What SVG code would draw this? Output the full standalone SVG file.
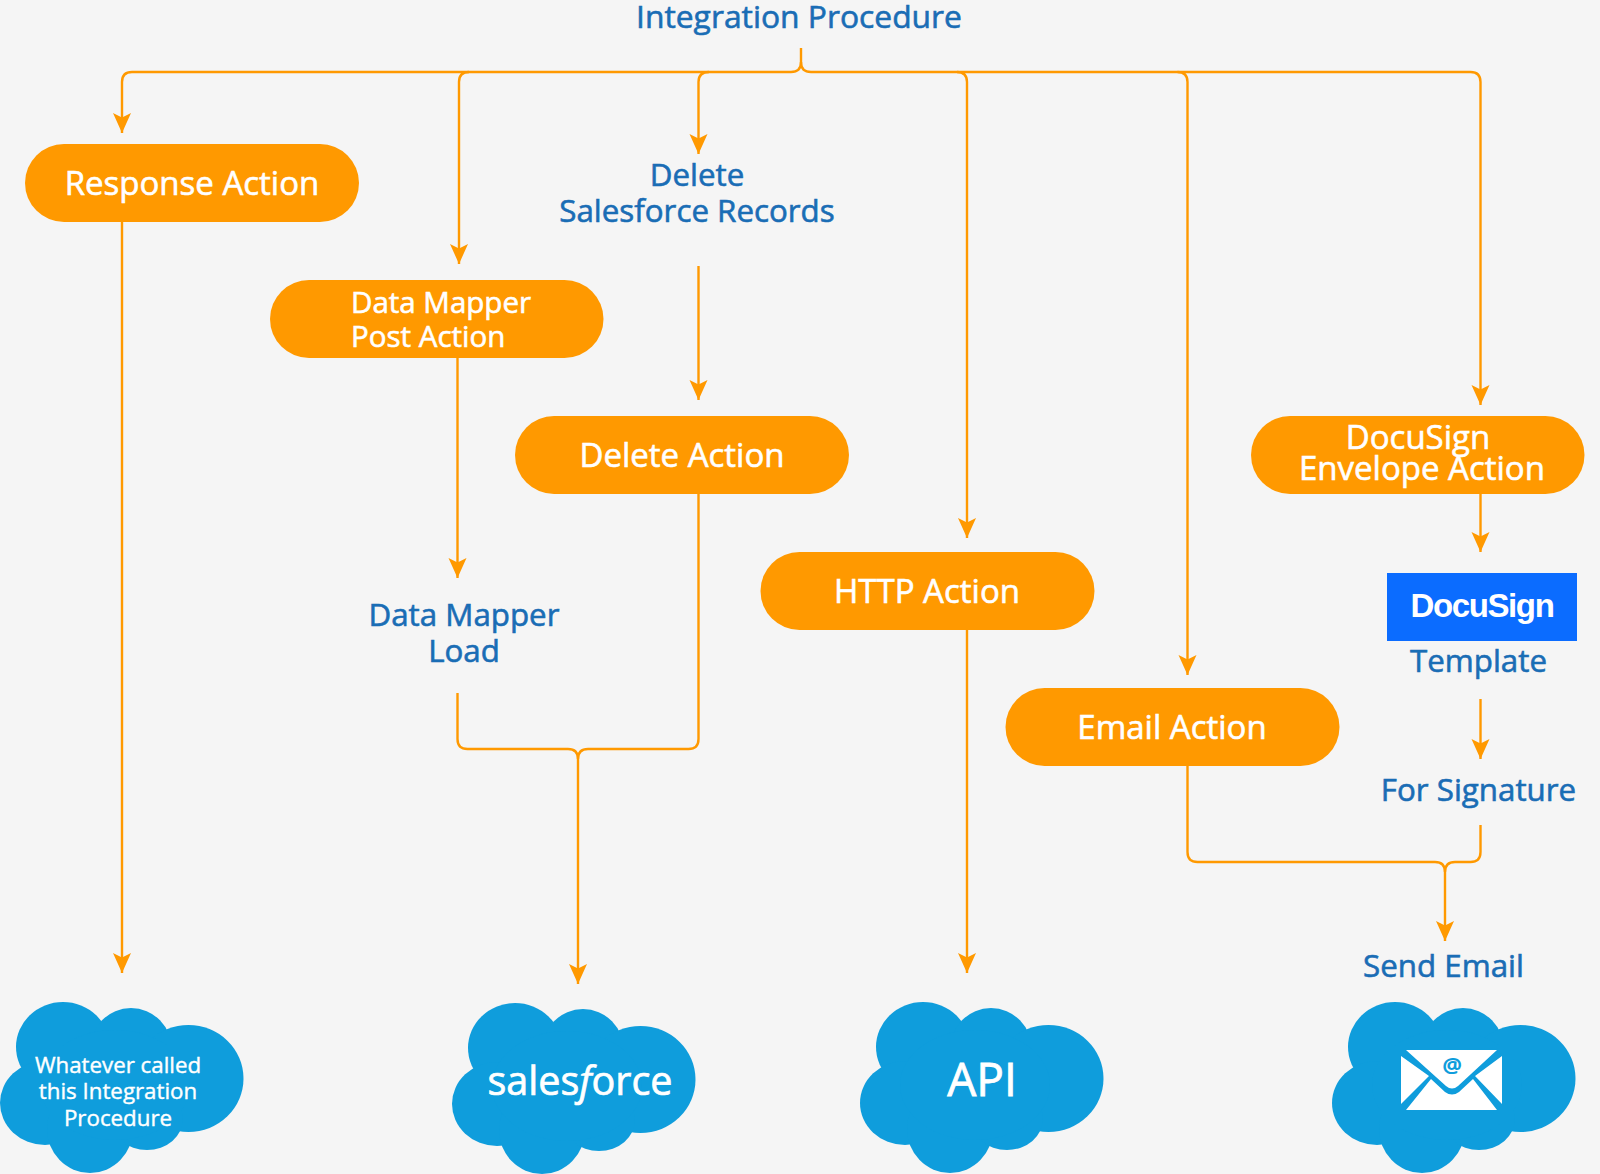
<svg xmlns="http://www.w3.org/2000/svg" width="1600" height="1174" viewBox="0 0 1600 1174">
<style>
text{font-family:"Open Sans","Noto Sans",sans-serif;text-anchor:middle}
.p{fill:#FF9900}
.w{fill:#FFFFFF;stroke:#FFFFFF;stroke-width:.6px;font-size:33px}
.m{text-anchor:start;font-size:29.500px}
.b{fill:#1A6DB5;stroke:#1A6DB5;stroke-width:.6px;font-size:31.300px}
.t{fill:#FFFFFF;stroke:#FFFFFF;stroke-width:.4px;font-size:22.300px}
.c{fill:none;stroke:#FF9900;stroke-width:2.4}
.a{marker-end:url(#arr)}
.cl{fill:#0F9DDC}
</style>
<defs>
<marker id="arr" markerUnits="userSpaceOnUse" markerWidth="22" markerHeight="24" refX="20" refY="10" orient="auto">
<path d="M0,1L20,10L0,19L4.500,10Z" fill="#FF9900"/>
</marker>
<g id="cloud">
<ellipse cx="63" cy="1047" rx="47" ry="45"/>
<ellipse cx="131" cy="1050" rx="41" ry="42"/>
<ellipse cx="188.500" cy="1078.500" rx="55" ry="53.500"/>
<ellipse cx="45" cy="1103" rx="45" ry="42"/>
<ellipse cx="90" cy="1129" rx="43" ry="44"/>
<ellipse cx="147" cy="1119" rx="36" ry="31"/>
<ellipse cx="115" cy="1085" rx="75" ry="55"/>
</g>
</defs>
<rect width="1600" height="1174" fill="#F5F5F5"/>
<g id="connectors">
<path class="c a" d="M801,48V62Q801,72 791,72H132Q122,72 122,82V133"/>
<path class="c a" d="M469,72Q459,72 459,82V264"/>
<path class="c a" d="M709,72Q698.500,72 698.500,82V154"/>
<path class="c a" d="M801,62Q801,72 811,72H1470.500Q1480.500,72 1480.500,82V405"/>
<path class="c a" d="M957,72Q967,72 967,82V538"/>
<path class="c a" d="M1177.500,72Q1187.500,72 1187.500,82V675"/>
<path class="c a" d="M122,222V973"/>
<path class="c a" d="M457.500,358V578"/>
<path class="c a" d="M698.500,266V400"/>
<path class="c" d="M698.500,494V739Q698.500,749 688.500,749H588Q578,749 578,759"/>
<path class="c a" d="M457.500,693V739Q457.500,749 467.500,749H568Q578,749 578,759V984"/>
<path class="c a" d="M967,630V973"/>
<path class="c" d="M1480.500,825V852Q1480.500,862 1470.500,862H1455Q1445,862 1445,872"/>
<path class="c a" d="M1187.500,766V852Q1187.500,862 1197.500,862H1435Q1445,862 1445,872V941"/>
<path class="c a" d="M1480.500,494V552"/>
<path class="c a" d="M1480.500,699V759"/>
</g>
<g id="title"><text class="b" style="font-size:31.800px" x="799" y="28">Integration Procedure</text></g>
<g id="response-action"><rect class="p" x="25" y="144" width="334" height="78" rx="39"/><text class="w" x="192" y="195">Response Action</text></g>
<g id="data-mapper-post"><rect class="p" x="270" y="280" width="333.500" height="78" rx="39"/><text class="w m" x="351" y="313">Data Mapper</text><text class="w m" x="351" y="347">Post Action</text></g>
<g id="delete-records"><text class="b" x="697" y="186">Delete</text><text class="b" x="697" y="222">Salesforce Records</text></g>
<g id="delete-action"><rect class="p" x="515" y="416" width="334" height="78" rx="39"/><text class="w" x="682" y="467">Delete Action</text></g>
<g id="data-mapper-load"><text class="b" x="464" y="626">Data Mapper</text><text class="b" x="464" y="662">Load</text></g>
<g id="http-action"><rect class="p" x="760.500" y="552" width="334" height="78" rx="39"/><text class="w" x="927" y="603">HTTP Action</text></g>
<g id="email-action"><rect class="p" x="1005.500" y="688" width="334" height="78" rx="39"/><text class="w" x="1172" y="739">Email Action</text></g>
<g id="docusign-action"><rect class="p" x="1251" y="416" width="333.500" height="78" rx="39"/><text class="w" x="1418" y="449">DocuSign</text><text class="w" x="1422" y="480">Envelope Action</text></g>
<g id="docusign-template"><rect x="1387" y="573" width="190" height="68" fill="#0B6CFF"/><text x="1482" y="617" style="font-family:'Liberation Sans',sans-serif;font-size:33px;font-weight:700;letter-spacing:-1.400px" fill="#FFFFFF">DocuSign</text><text class="b" x="1478.500" y="672">Template</text></g>
<g id="for-signature"><text class="b" x="1478.500" y="801">For Signature</text></g>
<g id="send-email"><text class="b" x="1443.500" y="977">Send Email</text></g>
<g id="cloud-caller"><use href="#cloud" class="cl"/><text class="t" x="118" y="1073">Whatever called</text><text class="t" x="118" y="1099">this Integration</text><text class="t" x="118" y="1126">Procedure</text></g>
<g id="cloud-salesforce"><use href="#cloud" class="cl" x="452" y="1"/><text x="580" y="1095" fill="#FFFFFF" stroke="#FFFFFF" stroke-width=".7" style="font-size:39.500px">sales<tspan font-style="italic">f</tspan>orce</text></g>
<g id="cloud-api"><use href="#cloud" class="cl" x="860"/><text x="982" y="1096" fill="#FFFFFF" stroke="#FFFFFF" stroke-width=".8" style="font-size:46px">API</text></g>
<g id="cloud-email"><use href="#cloud" class="cl" x="1332"/>
<path fill="#FFFFFF" d="M1406,1050H1497L1458,1086Q1452,1091 1446,1086ZM1401,1056L1429,1076L1401,1104ZM1502,1056L1475,1076L1502,1104ZM1406,1110L1431,1079L1445,1092Q1452,1097 1459,1092L1473,1079L1497,1110Z"/>
<text x="1452" y="1073" fill="#0F9DDC" style="font-size:22px;font-weight:700">@</text></g>
</svg>
